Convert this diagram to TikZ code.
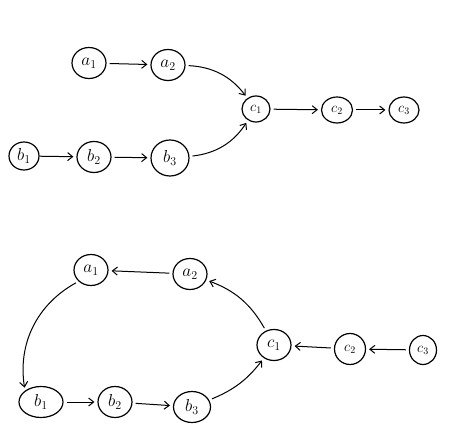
\documentclass[tikz,border=0pt]{standalone}
\usetikzlibrary{shapes.geometric,arrows.meta}
\begin{document}
\begin{tikzpicture}[x=1pt,y=-1pt,
  nd/.style={draw,ellipse,line width=1.2pt,inner sep=0pt,minimum width=34pt,minimum height=31pt,font=\LARGE},
  sm/.style={nd,minimum width=28pt,minimum height=26pt,font=\Large},
  ar/.style={-{Straight Barb[length=5pt,width=8pt]},line width=1pt,shorten >=3pt,shorten <=3pt}]
\useasboundingbox (0,0) rectangle (474,430);
% top graph
\node[nd] (ta1) at (89,63) {$a_1$};
\node[nd] (ta2) at (168,65) {$a_2$};
\node[sm] (tc1) at (256,109) {$c_1$};
\node[sm,minimum width=31pt] (tc2) at (337,110) {$c_2$};
\node[sm,minimum width=30pt] (tc3) at (404,110) {$c_3$};
\node[nd,minimum width=30pt,minimum height=28pt] (tb1) at (24,156) {$b_1$};
\node[nd] (tb2) at (94,157) {$b_2$};
\node[nd,minimum width=38pt,minimum height=36pt] (tb3) at (170,158) {$b_3$};
\draw[ar] (ta1) -- (ta2);
\draw[ar] (ta2) to[bend left=25] (tc1);
\draw[ar,shorten <=0pt] (tb1) -- (tb2);
\draw[ar] (tb2) -- (tb3);
\draw[ar] (tb3) to[bend right=25] (tc1);
\draw[ar] (tc1) -- (tc2);
\draw[ar] (tc2) -- (tc3);
% bottom graph
\node[nd] (ba1) at (91,270) {$a_1$};
\node[nd] (ba2) at (190,274) {$a_2$};
\node[nd] (bc1) at (274,345) {$c_1$};
\node[sm,minimum width=31pt,minimum height=31pt] (bc2) at (350,349) {$c_2$};
\node[sm,minimum width=27pt,minimum height=29pt] (bc3) at (423,350) {$c_3$};
\node[nd,minimum width=44pt] (bb1) at (41,402) {$b_1$};
\node[nd] (bb2) at (115,402) {$b_2$};
\node[nd,minimum width=37pt] (bb3) at (192,407) {$b_3$};
\draw[ar] (ba2) -- (ba1);
\draw[ar] (bc1) to[bend right=20] (ba2);
\draw[ar] (ba1.south west) to[bend right=35] (bb1.north west);
\draw[ar] (bb1) -- (bb2);
\draw[ar] (bb2) -- (bb3);
\draw[ar] (bb3) to[bend right=15] (bc1);
\draw[ar] (bc2) -- (bc1);
\draw[ar] (bc3) -- (bc2);
\end{tikzpicture}
\end{document}
